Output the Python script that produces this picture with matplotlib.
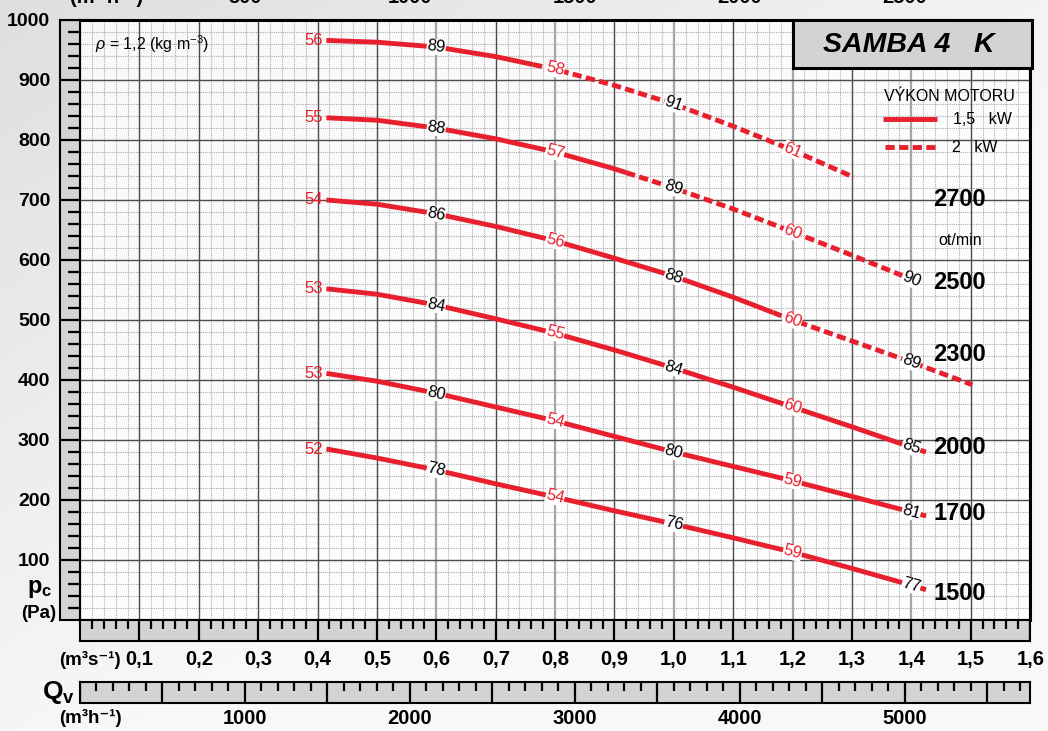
import numpy as np
import matplotlib.pyplot as plt
import matplotlib.font_manager as fm
from matplotlib.patches import Rectangle

# keep the regular-width Liberation Sans (drop the Narrow cut)
fm.fontManager.ttflist = [f for f in fm.fontManager.ttflist
                          if 'Narrow' not in f.name and 'Narrow' not in f.fname]

plt.rcParams['font.family'] = ['Liberation Sans', 'DejaVu Sans']
plt.rcParams['mathtext.fontset'] = 'custom'
plt.rcParams['mathtext.rm'] = 'Liberation Sans'
plt.rcParams['mathtext.it'] = 'Liberation Sans:italic'
plt.rcParams['mathtext.bf'] = 'Liberation Sans:bold'

# --- data (Q in m3/s, p in Pa) ---
rpm = ['2700', '2500', '2300', '2000', '1700', '1500']

q_2700 = [0.415, 0.5, 0.6, 0.7, 0.8, 0.9, 1.0, 1.1, 1.2, 1.303]
p_2700 = [966, 963, 955, 939, 918, 891, 860, 823, 783, 738]

q_2500 = [0.415, 0.5, 0.6, 0.7, 0.8, 0.9, 1.0, 1.1, 1.2, 1.3, 1.4]
p_2500 = [837, 833, 820, 802, 780, 752, 720, 685, 647, 608, 568]

q_2300 = [0.415, 0.5, 0.6, 0.7, 0.8, 0.9, 1.0, 1.1, 1.2, 1.3, 1.4, 1.503]
p_2300 = [700, 693, 677, 656, 632, 603, 573, 538, 500, 465, 430, 392]

q_2000 = [0.415, 0.5, 0.6, 0.7, 0.8, 0.9, 1.0, 1.1, 1.2, 1.3, 1.4, 1.43]
p_2000 = [552, 543, 525, 502, 478, 450, 420, 388, 355, 322, 288, 278]

q_1700 = [0.415, 0.5, 0.6, 0.7, 0.8, 0.9, 1.0, 1.1, 1.2, 1.3, 1.4, 1.43]
p_1700 = [411, 398, 378, 355, 332, 306, 280, 256, 232, 206, 180, 172]

q_1500 = [0.415, 0.5, 0.6, 0.7, 0.8, 0.9, 1.0, 1.1, 1.2, 1.3, 1.4, 1.43]
p_1500 = [285, 270, 250, 227, 205, 182, 160, 137, 113, 86, 58, 49]

# Q where the 2 kW (dashed) part begins
q_dash = [0.763, 0.92, 1.167, 1.41, 1.41, 1.41]

# labels: first = noise at start (red), then at Q = 0.6, 0.8, 1.0, 1.2, 1.4
label_q = [0.6, 0.8, 1.0, 1.2, 1.4]
lab_2700 = ['56', '89', '58', '91', '61']
lab_2500 = ['55', '88', '57', '89', '60', '90']
lab_2300 = ['54', '86', '56', '88', '60', '89']
lab_2000 = ['53', '84', '55', '84', '60', '85']
lab_1700 = ['53', '80', '54', '80', '59', '81']
lab_1500 = ['52', '78', '54', '76', '59', '77']

rpm_y = [700, 563, 442, 287, 177, 45]

ticks_q = [0.1, 0.2, 0.3, 0.4, 0.5, 0.6, 0.7, 0.8, 0.9, 1.0, 1.1, 1.2, 1.3, 1.4, 1.5, 1.6]
ticks_h = [1000, 2000, 3000, 4000, 5000]
ticks_p = [100, 200, 300, 400, 500, 600, 700, 800, 900, 1000]
top_h = ['500', '1000', '1500', '2000', '2500']

curves = [(q_2700, p_2700, lab_2700), (q_2500, p_2500, lab_2500),
          (q_2300, p_2300, lab_2300), (q_2000, p_2000, lab_2000),
          (q_1700, p_1700, lab_1700), (q_1500, p_1500, lab_1500)]

RED = '#e81f2c'
STRIP = '#d3d3d3'
W, H = 1048, 731

fig = plt.figure(figsize=(W / 100, H / 100), dpi=100)

# soft grey background
bg = fig.add_axes([0, 0, 1, 1], zorder=-10)
yy, xx = np.mgrid[0:1:200j, 0:1:200j]
shade = 0.87 + 0.10 * np.clip(xx * 0.8 + yy * 0.9, 0, 1)
bg.imshow(shade, cmap='gray', vmin=0, vmax=1, aspect='auto', extent=[0, 1, 0, 1])
bg.axis('off')


def fbox(x0, y0, x1, y1):
    return [x0 / W, 1 - y1 / H, (x1 - x0) / W, (y1 - y0) / H]


ax = fig.add_axes(fbox(80, 20, 1030, 620))
ax.set_xlim(0, 1.6)
ax.set_ylim(0, 1000)
ax.set_facecolor((1, 1, 1, 0.8))
ax.set_xticks([])
ax.set_yticks([])
for s in ['top', 'right']:
    ax.spines[s].set_linewidth(2.2)
for s in ['left', 'bottom']:
    ax.spines[s].set_linewidth(1.5)

# grid
minor_q = np.arange(0, 1.6001, 0.02)
minor_p = np.arange(0, 1000.1, 20)
ax.vlines(minor_q, 0, 1000, colors='#aaaaaa', lw=0.8, linestyles=(0, (1, 1)), zorder=1)
ax.hlines(minor_p, 0, 1.6, colors='#aaaaaa', lw=0.8, linestyles=(0, (1, 1)), zorder=1)
for q in ticks_q:
    light = round(q * 10) % 2 == 0 and q >= 0.55
    ax.axvline(q, color='#a6a6a6' if light else '#4d4d4d', lw=1.6 if light else 1.0, zorder=2)
ax.hlines(ticks_p, 0, 1.6, colors='#4d4d4d', lw=1.0, zorder=2)

# curves
for i, (qs, ps, labs) in enumerate(curves):
    qs = np.array(qs)
    ps = np.array(ps)
    qd = q_dash[i]
    pd = np.interp(qd, qs, ps)
    m = qs < qd
    ax.plot(np.r_[qs[m], qd], np.r_[ps[m], pd], color=RED, lw=3.5,
            solid_capstyle='butt', solid_joinstyle='round', zorder=4)
    ax.plot(np.r_[qd, qs[~m]], np.r_[pd, ps[~m]], color=RED, lw=3.5,
            dashes=(1.9, 0.9), dash_capstyle='butt', zorder=4)
    ax.text(qs[0] - 0.006, ps[0], labs[0], color=RED, fontsize=12,
            ha='right', va='center', zorder=6)
    for j, lab in enumerate(labs[1:]):
        lq = label_q[j]
        lp = np.interp(lq, qs, ps)
        k = np.searchsorted(qs, lq)
        k0, k1 = max(k - 1, 0), min(k + 1, len(qs) - 1)
        ang = np.degrees(np.arctan2((ps[k1] - ps[k0]) * 0.6, (qs[k1] - qs[k0]) * 594))
        col = 'black' if j % 2 == 0 else RED
        ax.text(lq, lp, lab, color=col, fontsize=12, ha='center', va='center',
                rotation=ang, rotation_mode='anchor', zorder=6,
                bbox=dict(facecolor='white', edgecolor='none', pad=0.3))

# rpm labels
for r, y in zip(rpm, rpm_y):
    ax.text(1.481, y, r, fontsize=17, fontweight='bold', ha='center', va='center', zorder=6)
ax.text(1.483, 633, 'ot/min', fontsize=11.5, ha='center', va='center', zorder=6)

ax.text(0.025, 960, r'$\rho$ = 1,2 (kg m$^{-3}$)', fontsize=11.5, ha='left', va='center', zorder=6)

# title box and legend
ax.add_patch(Rectangle((1.2, 920), 0.404, 80, facecolor=STRIP, edgecolor='black',
                       lw=2.2, clip_on=False, zorder=7))
ax.text(1.396, 958, 'SAMBA 4   K', fontsize=20.5, fontweight='bold', fontstyle='italic',
        ha='center', va='center', zorder=8)
ax.text(1.465, 872, 'VÝKON MOTORU', fontsize=11.5, ha='center', va='center', zorder=6)
ax.plot([1.353, 1.444], [835, 835], color=RED, lw=3.5, solid_capstyle='butt', zorder=6)
ax.plot([1.355, 1.447], [788, 788], color=RED, lw=3.5, dashes=(1.9, 0.9),
        dash_capstyle='butt', zorder=6)
ax.text(1.470, 835, '1,5   kW', fontsize=11.5, ha='left', va='center', zorder=6)
ax.text(1.468, 788, '2   kW', fontsize=11.5, ha='left', va='center', zorder=6)

# left strip (Pa)
axl = fig.add_axes(fbox(60, 20, 80, 620))
axl.set_xlim(0, 1)
axl.set_ylim(0, 1000)
axl.set_facecolor(STRIP)
axl.hlines([p for p in minor_p if p % 100 != 0], 0.4, 1, colors='black', lw=1.6)
axl.hlines(ticks_p, 0, 1, colors='black', lw=1.6)
axl.set_xticks([])
axl.set_yticks(ticks_p)
axl.set_yticklabels([str(p) for p in ticks_p], fontsize=14, fontweight='bold')
axl.tick_params(axis='y', length=0, pad=7)
for s in axl.spines.values():
    s.set_linewidth(1.5)


def strip(y0, y1, majors, minors):
    a = fig.add_axes(fbox(80, y0, 1030, y1))
    a.set_xlim(0, 1.6)
    a.set_ylim(0, 1)
    a.set_facecolor(STRIP)
    a.vlines(minors, 0.55, 1, colors='black', lw=1.6)
    a.vlines(majors, 0, 1, colors='black', lw=1.6)
    a.set_xticks([])
    a.set_yticks([])
    for s in a.spines.values():
        s.set_linewidth(1.5)
    return a


mq = np.arange(0, 1.6001, 0.02)
strip(620, 641, ticks_q, [q for q in mq if round(q * 50) % 5 != 0])
mh = np.arange(0, 5800, 100)
strip(682, 703, [h / 3600 for h in mh if h % 500 == 0],
      [h / 3600 for h in mh if h % 500 != 0])

# bottom tick labels
for q in ticks_q:
    fig.text((80 + 594 * q) / W, 1 - 660 / H, f'{q:.1f}'.replace('.', ','),
             fontsize=14.5, fontweight='bold', ha='center', va='center')
for h in ticks_h:
    fig.text((80 + 594 * h / 3600) / W, 1 - 718 / H, str(h),
             fontsize=14.5, fontweight='bold', ha='center', va='center')

# top labels (cut by the top edge, as in the original)
for i, t in enumerate(top_h):
    fig.text((80 + 594 * (i + 1) * 1000 / 3600) / W, 1 - 7 / H, t,
             fontsize=14.5, fontweight='bold', ha='center', va='bottom')
fig.text(107 / W, 1 - 7 / H, '(m³ h⁻¹)', fontsize=14.5, fontweight='bold', ha='center', va='bottom')

# axis titles
fig.text(90 / W, 1 - 660 / H, '(m³s⁻¹)', fontsize=13.5, fontweight='bold', ha='center', va='center')
fig.text(90 / W, 1 - 718 / H, '(m³h⁻¹)', fontsize=13.5, fontweight='bold', ha='center', va='center')
fig.text(58 / W, 1 - 692 / H, r'$\mathbf{Q}_{\mathbf{v}}$', fontsize=19, ha='center', va='center')
fig.text(40 / W, 1 - 589 / H, r'$\mathbf{p}_{\mathbf{c}}$', fontsize=17, ha='center', va='center')
fig.text(39 / W, 1 - 614 / H, '(Pa)', fontsize=13.5, fontweight='bold', ha='center', va='center')

fig.savefig('out.png', dpi=100)
